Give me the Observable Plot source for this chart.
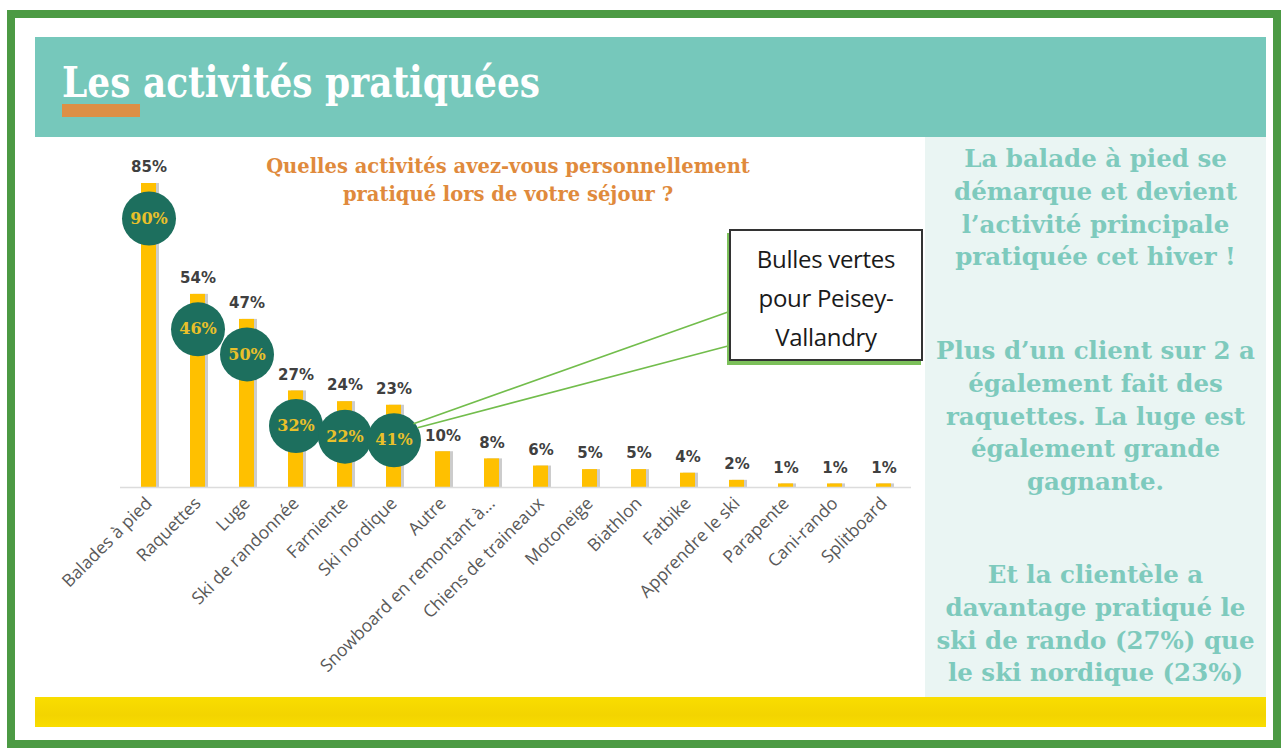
<!DOCTYPE html>
<html><head><meta charset="utf-8">
<script src="https://cdn.jsdelivr.net/npm/d3@7"></script>
<script src="https://cdn.jsdelivr.net/npm/@observablehq/plot@0.6"></script>
<style>
body{margin:0;background:#fff;}
#slide{position:relative;width:1282px;height:749px;overflow:hidden;background:#fff;}
#frame{position:absolute;left:7px;top:10px;width:1258px;height:722px;border:8px solid #4c9a44;}
#header{position:absolute;left:35px;top:37px;width:1231px;height:100px;background:#76c8bb;}
#accent{position:absolute;left:62px;top:104px;width:78px;height:13px;background:#dd8f45;}
#panel{position:absolute;left:925px;top:137px;width:341px;height:560px;background:#eaf5f3;}
#yellow{position:absolute;left:35px;top:697px;width:1231px;height:30px;background:linear-gradient(#f9dd00,#f3d400 60%,#f9dd00);}
#chart{position:absolute;left:35px;top:137px;}
#question{position:absolute;left:188px;top:153px;width:640px;text-align:center;font-family:"DejaVu Serif";font-weight:bold;font-size:19.5px;line-height:28px;color:#e08a3c;}
.para{position:absolute;left:915px;width:361px;text-align:center;font-family:"DejaVu Serif";font-weight:bold;font-size:24.5px;line-height:32.8px;color:#7ecabd;}
#callout{position:absolute;left:729px;top:229px;width:190px;border:2px solid #333;background:#fff;box-shadow:-2px 4px 0 0 #7cc05a;text-align:center;font-family:"Open Sans";font-size:24px;line-height:39px;color:#1a1a1a;padding-top:8px;box-sizing:content-box;height:120px;letter-spacing:-0.3px;}
#overlay{position:absolute;left:0;top:0;pointer-events:none;}
</style></head>
<body>
<div id="slide">
  <div id="frame"></div>
  <div id="header"></div>
  <svg id="titlesvg" width="1282" height="140" style="position:absolute;left:0;top:0">
    <text id="title" x="62" y="97" fill="#fff" font-family="DejaVu Serif Condensed" font-weight="bold" font-size="42" textLength="478" lengthAdjust="spacingAndGlyphs"></text>
  </svg>
  <div id="accent"></div>
  <div id="panel"></div>
  <div id="yellow"></div>
  <div id="chart"></div>
  <div id="question"></div>
  <div id="p0" class="para" style="top:143px"></div>
  <div id="p1" class="para" style="top:335px"></div>
  <div id="p2" class="para" style="top:559px"></div>
  <svg id="overlay" width="1282" height="749"></svg>
  <div id="callout"></div>
</div>
<script>
const titleText = "Les activités pratiquées";
const categories = ["Balades à pied","Raquettes","Luge","Ski de randonnée","Farniente","Ski nordique","Autre","Snowboard en remontant à...","Chiens de traineaux","Motoneige","Biathlon","Fatbike","Apprendre le ski","Parapente","Cani-rando","Splitboard"];
const values = [85,54,47,27,24,23,10,8,6,5,5,4,2,1,1,1];
const peiseyCategories = ["Balades à pied","Raquettes","Luge","Ski de randonnée","Farniente","Ski nordique"];
const peiseyValues = [90,46,50,32,22,41];
const questionLines = ["Quelles activités avez-vous personnellement","pratiqué lors de votre séjour ?"];
const calloutLines = ["Bulles vertes","pour Peisey-","Vallandry"];
const comment1 = ["La balade à pied se","démarque et devient","l’activité principale","pratiquée cet hiver !"];
const comment2 = ["Plus d’un client sur 2 a","également fait des","raquettes. La luge est","également grande","gagnante."];
const comment3 = ["Et la clientèle a","davantage pratiqué le","ski de rando (27%) que","le ski nordique (23%)"];

document.getElementById("title").textContent = titleText;
document.getElementById("question").innerHTML = questionLines.join("<br>");
document.getElementById("callout").innerHTML = calloutLines.join("<br>");
document.getElementById("p0").innerHTML = comment1.join("<br>");
document.getElementById("p1").innerHTML = comment2.join("<br>");
document.getElementById("p2").innerHTML = comment3.join("<br>");

const bars = categories.map((c, i) => ({cat: c, v: values[i]}));
const bubbles = peiseyCategories.map((c, i) => ({cat: c, bar: values[categories.indexOf(c)], p: peiseyValues[i]}));
const bubbleDy = 35;

const plot = Plot.plot({
  width: 890, height: 560,
  marginLeft: 85, marginRight: 14, marginTop: 46, marginBottom: 210,
  x: {domain: categories, paddingInner: 0.7, paddingOuter: 0.36, label: null},
  y: {domain: [0, 85], axis: null},
  style: {background: "transparent", overflow: "visible"},
  marks: [
    Plot.barY(bars, {x: "cat", y: "v", fill: "#7f7f7f", fillOpacity: 0.4, dx: 3}),
    Plot.barY(bars, {x: "cat", y: "v", fill: "#ffc000"}),
    Plot.ruleY([0], {stroke: "#dcdcdc", strokeWidth: 1.5}),
    Plot.axisX({tickSize: 0, tickPadding: 13, tickRotate: -45, fontSize: 17.5, color: "#595959", fontFamily: "Open Sans", label: null}),
    Plot.text(bars, {x: "cat", y: "v", text: d => d.v + "%", dy: -16, fontWeight: "bold", fontSize: 15, fill: "#404040", fontFamily: "DejaVu Sans"}),
    Plot.dot(bubbles, {x: "cat", y: "bar", r: 27, fill: "#1d6f5e", dy: bubbleDy}),
    Plot.text(bubbles, {x: "cat", y: "bar", text: d => d.p + "%", dy: bubbleDy, fill: "#e9c02a", fontWeight: "bold", fontSize: 16, fontFamily: "DejaVu Serif"})
  ]
});
document.getElementById("chart").appendChild(plot);

// leader lines from the last green bubble to the callout box
const xs = plot.scale("x"), ys = plot.scale("y");
const last = bubbles[bubbles.length - 1];
const cx = 35 + xs.apply(last.cat) + xs.bandwidth / 2;
const cy = 137 + ys.apply(last.bar) + bubbleDy;
const ov = d3.select("#overlay");
const boxLeft = 728, boxTop = 229;
[[cx + 20, cy - 16, boxLeft, boxTop + 83], [cx + 24, cy - 12, boxLeft, boxTop + 117]].forEach(([x1, y1, x2, y2]) => {
  ov.append("line").attr("x1", x1).attr("y1", y1).attr("x2", x2).attr("y2", y2)
    .attr("stroke", "#72bd4c").attr("stroke-width", 1.6);
});
</script>
</body></html>
